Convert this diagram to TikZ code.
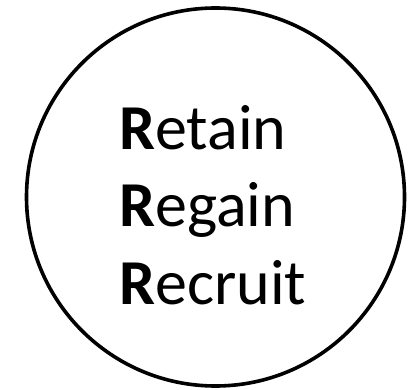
\documentclass[tikz,border=0pt]{standalone}
\usepackage{fontspec}
\setmainfont{Carlito}

\begin{document}
\begin{tikzpicture}[x=1pt, y=1pt, every node/.style={font=\fontsize{64}{77}\selectfont}]
      \useasboundingbox (0,0) rectangle (415,389);
      % Outer ring
      \node[draw, line width=3.6pt, circle, minimum size=378pt, inner sep=0pt] (ring) at (215.5,192) {};
      % The three words
      \node[anchor=base west, inner sep=0pt] (retain) at (119,240) {\textbf{R}etain};
      \node[anchor=base west, inner sep=0pt] (regain) at (119,163) {\textbf{R}egain};
      \node[anchor=base west, inner sep=0pt] (recruit) at (119,85) {\textbf{R}ecruit};
    \end{tikzpicture}
\end{document}
